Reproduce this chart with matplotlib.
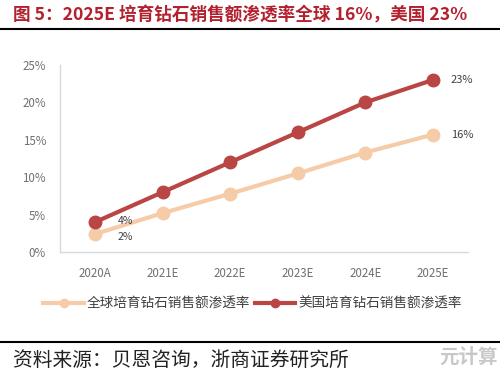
import matplotlib
matplotlib.use("Agg")
import matplotlib.pyplot as plt
from matplotlib.lines import Line2D

plt.rcParams['font.family'] = ['Noto Sans CJK SC', 'DejaVu Sans']

years = ["2020A", "2021E", "2022E", "2023E", "2024E", "2025E"]
global_pen = [2.4, 5.2, 7.8, 10.5, 13.3, 15.7]
us_pen = [4.0, 8.0, 12.0, 16.0, 20.0, 23.0]
global_name = "全球培育钻石销售额渗透率"
us_name = "美国培育钻石销售额渗透率"
yticks = [0, 5, 10, 15, 20, 25]
title = "图 5：2025E 培育钻石销售额渗透率全球 16%，美国 23%"
source = "资料来源：贝恩咨询，浙商证券研究所"

c_global = "#F6CBA8"
c_us = "#B94545"
c_title = "#B3202E"

fig = plt.figure(figsize=(5, 3.76), dpi=100)
ax = fig.add_axes([0.12, 1 - 252 / 376, 0.816, (252 - 65) / 376])

x = list(range(len(years)))
ax.plot(x, global_pen, color=c_global, lw=3, marker='o', ms=9, zorder=2)
ax.plot(x, us_pen, color=c_us, lw=3, marker='o', ms=9, zorder=3)

ax.set_xlim(-0.52, len(years) - 1 + 0.52)
ax.set_ylim(0, 25)
ax.set_yticks(yticks)
ax.set_yticklabels([f"{v}%" for v in yticks])
ax.set_xticks(x)
ax.set_xticklabels(years)
ax.tick_params(axis='both', length=0, labelsize=8.3, colors="#707070")
ax.tick_params(axis='x', pad=11)
ax.tick_params(axis='y', pad=10)
for s in ['top', 'right']:
    ax.spines[s].set_visible(False)
for s in ['left', 'bottom']:
    ax.spines[s].set_color("#D9D9D9")
    ax.spines[s].set_linewidth(1)

# data labels
ax.annotate(f"{us_pen[0]:.0f}%", (x[0], us_pen[0]), xytext=(16, 1), textcoords='offset points',
            fontsize=7.5, color="#404040", va='center')
ax.annotate(f"{global_pen[0]:.0f}%", (x[0], global_pen[0]), xytext=(16, -2), textcoords='offset points',
            fontsize=7.5, color="#404040", va='center')
ax.annotate(f"{us_pen[-1]:.0f}%", (x[-1], us_pen[-1]), xytext=(13, 0), textcoords='offset points',
            fontsize=8, color="#404040", va='center')
ax.annotate(f"{global_pen[-1]:.0f}%", (x[-1], global_pen[-1]), xytext=(13, 0), textcoords='offset points',
            fontsize=8, color="#404040", va='center')

handles = [Line2D([], [], color=c_global, lw=3, marker='o', ms=6),
           Line2D([], [], color=c_us, lw=3, marker='o', ms=6)]
fig.legend(handles, [global_name, us_name], loc='center', bbox_to_anchor=(0.505, 1 - 304 / 376),
           ncol=2, frameon=False, fontsize=9.8, handlelength=3.0, columnspacing=0.3,
           handletextpad=0.2, labelcolor="#404040")

fig.text(0.026, 1 - 15 / 376, title, fontsize=12.7, fontweight='bold', color=c_title, va='center', ha='left')
fig.add_artist(Line2D([0, 1], [1 - 29 / 376] * 2, color='black', lw=1.5, transform=fig.transFigure))
fig.add_artist(Line2D([0, 1], [1 - 342 / 376] * 2, color='black', lw=1.5, transform=fig.transFigure))
fig.text(0.026, 1 - 360 / 376, source, fontsize=14.2, color="#222222", va='center', ha='left')
fig.text(0.995, 1 - 357 / 376, "元计算", fontsize=14, fontweight='bold', color="#BBBBBB", va='center', ha='right', alpha=0.8)

fig.savefig("out.png", dpi=100, facecolor='white')
